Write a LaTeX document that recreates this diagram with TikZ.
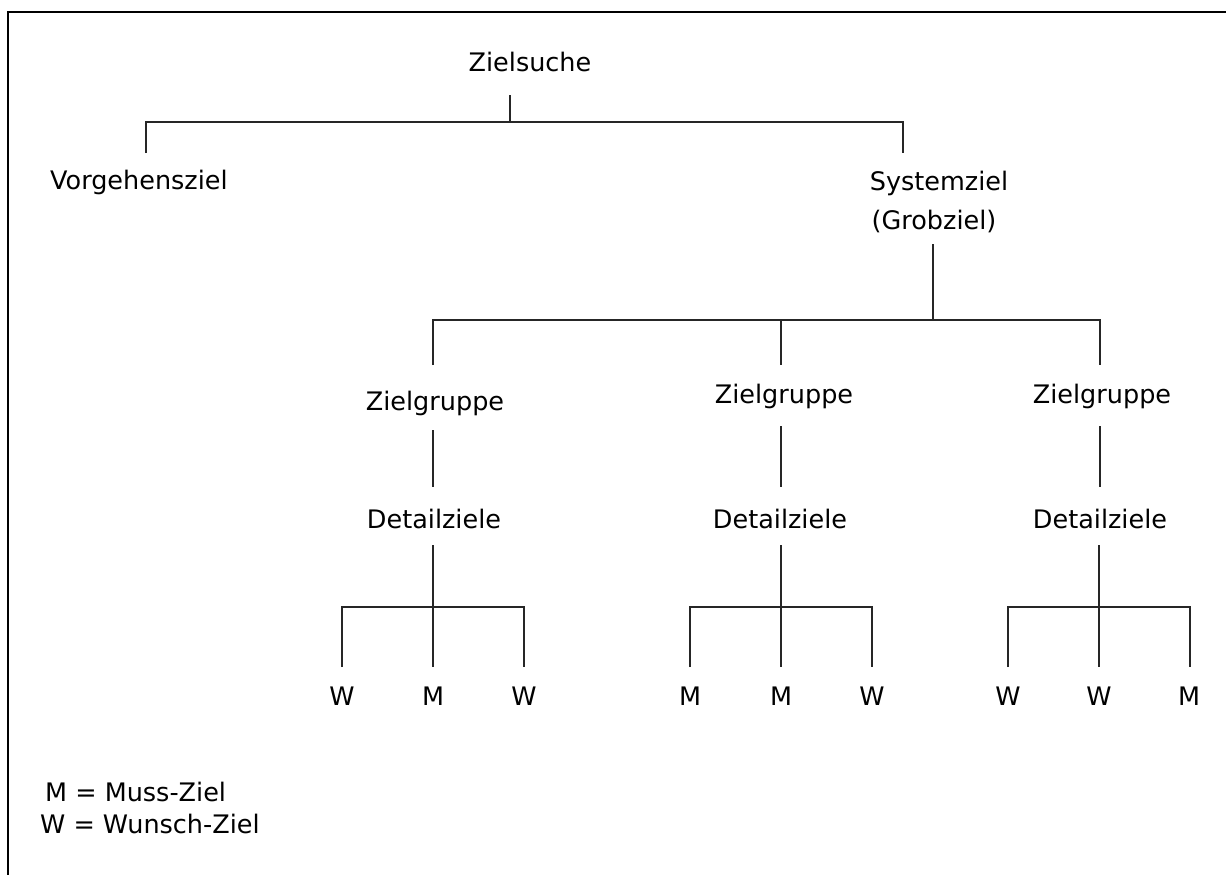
\documentclass[tikz,border=0pt]{standalone}
\usepackage{fontspec}
\setmainfont{DejaVu Sans}
\begin{document}
\begin{tikzpicture}[x=1pt,y=-1pt,
  lbl/.style={inner sep=0pt, anchor=base, font=\fontsize{25.5}{39}\selectfont},
  conn/.style={line width=1.1pt, black!85},
  frame/.style={line width=2.2pt, black}]
\useasboundingbox (0,0) rectangle (1226,875);
% open frame (left and top edges)
\draw[frame] (8,875) -- (8,12) -- (1226,12);

% ---- labels ----
\node[lbl] (zs) at (530,72) {Zielsuche};
\node[lbl, anchor=base west] (vz) at (50,189) {Vorgehensziel};
\node[lbl] (sz) at (939,190) {Systemziel};
\node[lbl] (sz2) at (934,229) {(Grobziel)};

\node[lbl] (g1) at (435,410) {Zielgruppe};
\node[lbl] (g2) at (784,403) {Zielgruppe};
\node[lbl] (g3) at (1102,403) {Zielgruppe};

\node[lbl] (d1) at (434,528) {Detailziele};
\node[lbl] (d2) at (780,528) {Detailziele};
\node[lbl] (d3) at (1100,528) {Detailziele};

\node[lbl] (l11) at (342,705) {W};
\node[lbl] (l12) at (433,705) {M};
\node[lbl] (l13) at (524,705) {W};
\node[lbl] (l21) at (690,705) {M};
\node[lbl] (l22) at (781,705) {M};
\node[lbl] (l23) at (872,705) {W};
\node[lbl] (l31) at (1008,705) {W};
\node[lbl] (l32) at (1099,705) {W};
\node[lbl] (l33) at (1189,705) {M};

\node[lbl, anchor=base west] (leg1) at (45,801) {M = Muss-Ziel};
\node[lbl, anchor=base west] (leg2) at (40,833) {W = Wunsch-Ziel};

% ---- junction points ----
\coordinate (zs-s) at (510,95);
\coordinate (b0)   at (510,122);
\coordinate (b0l)  at (146,122);
\coordinate (b0r)  at (903,122);
\coordinate (vz-n) at (146,153);
\coordinate (sz-n) at (903,153);

\coordinate (sz-s) at (933,244);
\coordinate (b1)   at (933,320);
\coordinate (b1l)  at (433,320);
\coordinate (b1m)  at (781,320);
\coordinate (b1r)  at (1100,320);
\coordinate (g1-n) at (433,365);
\coordinate (g2-n) at (781,365);
\coordinate (g3-n) at (1100,365);

\coordinate (g1-s) at (433,430);
\coordinate (g2-s) at (781,426);
\coordinate (g3-s) at (1100,426);
\coordinate (d1-n) at (433,487);
\coordinate (d2-n) at (781,487);
\coordinate (d3-n) at (1100,487);

\coordinate (d1-s) at (433,545);
\coordinate (d2-s) at (781,545);
\coordinate (d3-s) at (1099,545);
\coordinate (c1) at (433,607);
\coordinate (c2) at (781,607);
\coordinate (c3) at (1099,607);

% ---- connectors ----
\draw[conn] (zs-s) -- (b0);
\draw[conn] (vz-n) -- (b0l) -- (b0r) -- (sz-n);

\draw[conn] (sz-s) -- (b1);
\draw[conn] (g1-n) -- (b1l) -- (b1r) -- (g3-n);
\draw[conn] (b1m) -- (g2-n);

\draw[conn] (g1-s) -- (d1-n);
\draw[conn] (g2-s) -- (d2-n);
\draw[conn] (g3-s) -- (d3-n);

% lowest level: stem, bar and three drops per group
\foreach \d/\c/\xl/\xr in {d1/c1/342/524, d2/c2/690/872, d3/c3/1008/1190}{
  \draw[conn] (\d-s) -- (\c) -- (\c |- 0,667);
  \draw[conn] (\xl,667) -- (\xl,607) -- (\xr,607) -- (\xr,667);
}
\end{tikzpicture}
\end{document}
